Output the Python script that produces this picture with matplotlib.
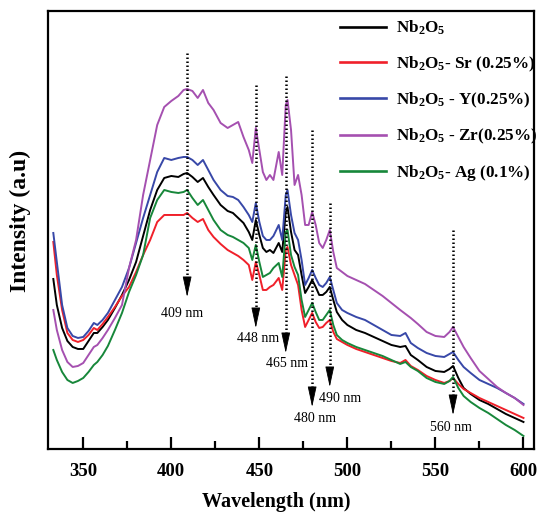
import matplotlib
matplotlib.use("Agg")
from matplotlib import pyplot as plt

plt.rcParams['font.family'] = ['Liberation Serif', 'DejaVu Serif']
plt.rcParams['font.weight'] = 'bold'
plt.rcParams['mathtext.fontset'] = 'custom'
plt.rcParams['mathtext.rm'] = 'Liberation Serif:bold'
plt.rcParams['mathtext.it'] = 'Liberation Serif:italic:bold'
plt.rcParams['mathtext.bf'] = 'Liberation Serif:bold'

# 波长 (nm)
wavelength = [333, 335, 338, 341, 344, 347, 350, 353, 356, 358, 361, 364, 368, 372, 376, 380,
              384, 388, 392, 396, 400, 404, 407, 409, 412, 415, 418, 421, 424, 428, 432, 435,
              438, 441, 444, 446, 448, 450, 452, 454, 456, 458, 461, 463, 465, 466, 468, 470,
              472, 474, 476, 478, 480, 482, 484, 486, 488, 490, 492, 494, 497, 500, 505, 510,
              515, 520, 525, 530, 533, 536, 540, 545, 550, 555, 558, 560, 563, 566, 570, 575,
              580, 585, 590, 595, 600]

# 强度 (a.u)
nb2o5 = [170, 144, 121, 108, 102, 100, 100, 108, 116, 116,
         122, 129, 141, 154, 169, 187, 213, 239, 259, 271,
         273, 272, 275, 276, 272, 267, 271, 262, 254, 244,
         238, 236, 231, 226, 217, 209, 229, 214, 201, 197,
         199, 196, 206, 197, 237, 242, 217, 199, 194, 174,
         156, 162, 169, 162, 154, 154, 157, 162, 149, 137,
         129, 124, 119, 116, 112, 108, 104, 102, 103, 94,
         89, 82, 78, 77, 80, 83, 71, 61, 55, 49,
         45, 40, 35, 31, 27]

sr = [207, 174, 139, 116, 109, 107, 109, 114, 121, 119,
      125, 132, 142, 153, 162, 177, 194, 209, 227, 234,
      234, 234, 234, 236, 231, 227, 230, 219, 212, 205,
      199, 196, 193, 189, 184, 169, 187, 174, 159, 159,
      162, 164, 171, 159, 199, 202, 184, 174, 164, 139,
      122, 129, 136, 127, 121, 122, 126, 129, 117, 110,
      107, 104, 100, 97, 94, 91, 88, 86, 89, 83,
      79, 73, 69, 66, 68, 71, 65, 60, 56, 51,
      47, 43, 39, 35, 31]

y_dop = [216, 187, 144, 121, 113, 111, 112, 118, 126, 124,
         129, 136, 149, 162, 181, 206, 231, 254, 277, 291,
         289, 291, 292, 292, 289, 284, 289, 279, 269, 259,
         253, 252, 249, 242, 234, 227, 246, 227, 213, 209,
         209, 213, 224, 209, 254, 259, 234, 216, 209, 189,
         164, 171, 179, 171, 164, 162, 166, 172, 159, 146,
         139, 136, 132, 129, 124, 119, 114, 113, 116, 106,
         101, 96, 93, 92, 95, 97, 89, 82, 76, 69,
         65, 61, 56, 51, 45]

zr = [139, 119, 99, 87, 82, 83, 86, 94, 102, 104,
      111, 119, 131, 144, 181, 209, 254, 289, 324, 342,
      348, 353, 359, 360, 358, 351, 359, 346, 339, 326,
      321, 324, 327, 312, 299, 286, 321, 299, 277, 269,
      274, 269, 297, 274, 344, 349, 319, 264, 274, 254,
      224, 224, 237, 224, 206, 201, 209, 219, 197, 181,
      177, 173, 169, 165, 159, 153, 146, 139, 135, 131,
      125, 117, 113, 112, 117, 122, 112, 102, 91, 78,
      70, 62, 56, 51, 44]

ag = [99, 89, 77, 69, 66, 68, 71, 77, 84, 87,
      94, 103, 119, 136, 157, 174, 194, 231, 249, 259,
      257, 256, 257, 259, 251, 244, 249, 239, 229, 219,
      214, 212, 209, 206, 201, 189, 204, 187, 172, 174,
      176, 181, 186, 172, 217, 219, 194, 182, 174, 149,
      132, 139, 146, 137, 129, 129, 134, 139, 124, 114,
      109, 106, 102, 99, 96, 93, 89, 85, 87, 82,
      78, 71, 67, 65, 68, 72, 61, 53, 47, 41,
      36, 30, 24, 19, 13]

labels = [r'Nb$_2$O$_5$', r'Nb$_2$O$_5$- Sr (0.25%)', r'Nb$_2$O$_5$ - Y(0.25%)',
          r'Nb$_2$O$_5$ - Zr(0.25%)', r'Nb$_2$O$_5$- Ag (0.1%)']
colors = ['#000000', '#f0202a', '#3848a8', '#a550b0', '#17873a']

# 峰位标注
peaks = [409, 448, 465, 480, 490, 560]
peak_top = [396, 364, 373, 319, 246, 219]
peak_tip = [152, 121, 96, 42, 62, 34]
peak_text = ['409 nm', '448 nm', '465 nm', '480 nm', '490 nm', '560 nm']
text_pos = [(406.3, 135), (449.4, 110), (465.9, 85), (481.8, 30), (496, 50), (559, 21)]

fig = plt.figure(figsize=(5.39, 5.13), dpi=100)
ax = fig.add_axes([0.0891, 0.1248, 0.9017, 0.8538])

for data, lab, c in zip([nb2o5, sr, y_dop, zr, ag], labels, colors):
    ax.plot(wavelength, data, color=c, lw=1.4, label=lab)

head = 18
for x, top, tip, t, pos in zip(peaks, peak_top, peak_tip, peak_text, text_pos):
    ax.plot([x, x], [top, tip + head - 2], color='k', lw=1.8, ls=(0, (0.6, 1.0)))
    ax.annotate('', xy=(x, tip), xytext=(x, tip + head),
                arrowprops=dict(arrowstyle='-|>,head_length=1.3,head_width=0.28',
                                color='k', lw=0.6, shrinkA=0, shrinkB=0))
    ax.text(pos[0], pos[1], t, ha='center', va='center', fontsize=10,
            fontweight='normal', family='Liberation Serif')

ax.set_xlim(330, 606)
ax.set_ylim(0, 438)
ax.set_xticks(range(350, 601, 50))
ax.set_xticks(range(375, 600, 50), minor=True)
ax.set_yticks([])
ax.tick_params(axis='x', which='major', direction='in', length=9, width=1.6,
               labelsize=13.5, pad=10)
ax.tick_params(axis='x', which='minor', direction='in', length=5.5, width=1.6)
for lbl in ax.get_xticklabels():
    lbl.set_fontweight('bold')
for s in ax.spines.values():
    s.set_linewidth(1.6)

ax.set_xlabel('Wavelength (nm)', fontsize=14.5, fontweight='bold')
ax.xaxis.set_label_coords(0.47, -0.098)
ax.set_ylabel('Intensity (a.u)', fontsize=17, fontweight='bold')
ax.yaxis.set_label_coords(-0.035, 0.52)

leg = ax.legend(loc='upper left', bbox_to_anchor=(340 / 539, 1 - 19 / 513),
                bbox_transform=fig.transFigure, frameon=False, fontsize=12.3,
                borderpad=0, borderaxespad=0, handlelength=2.7, handletextpad=0.6,
                labelspacing=1.0)
for line in leg.get_lines():
    line.set_linewidth(1.9)

plt.savefig('out.png', dpi=100)
